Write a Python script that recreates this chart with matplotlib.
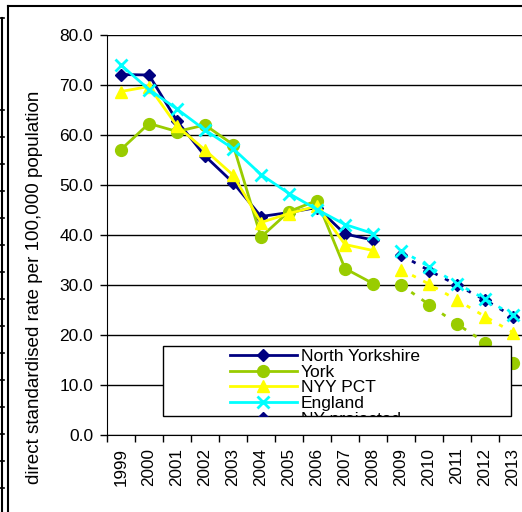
import numpy as np
import matplotlib.pyplot as plt
from matplotlib.lines import Line2D
from matplotlib.patches import Rectangle

plt.rcParams['font.family'] = ['Liberation Sans', 'DejaVu Sans']

years = [str(y) for y in range(1999, 2014)]

# observed 1999-2008
north_yorkshire = [72.1, 72.0, 62.8, 55.8, 50.5, 43.7, 44.5, 45.5, 40.2, 39.0]
york = [57.1, 62.3, 60.7, 62.0, 58.1, 39.6, 44.7, 46.9, 33.3, 30.3]
nyy_pct = [68.7, 69.7, 61.8, 57.0, 52.0, 42.5, 44.3, 45.8, 38.1, 36.9]
england = [74.0, 69.1, 65.2, 61.0, 57.3, 52.1, 48.3, 45.1, 42.1, 40.3]

# projected 2009-2013
north_yorkshire_proj = [36.0, 32.9, 30.0, 27.0, 23.7]
york_proj = [30.0, 26.1, 22.2, 18.5, 14.5]
nyy_pct_proj = [33.1, 30.2, 27.0, 23.7, 20.5]
england_proj = [36.9, 33.7, 30.3, 27.2, 24.0]

labels = ['North Yorkshire', 'York', 'NYY PCT', 'England', 'NY projected']

fig = plt.figure(figsize=(5.22, 5.12), dpi=100)
ax = fig.add_axes([107 / 522, 77 / 512, 420 / 522, 400 / 512])

x_obs = np.arange(len(north_yorkshire))
x_proj = np.arange(len(north_yorkshire), len(years))

styles = [
    dict(color='#000080', marker='D', ms=6.5, mfc='#000080', mec='#000080'),
    dict(color='#99CC00', marker='o', ms=8.5, mfc='#99CC00', mec='#99CC00'),
    dict(color='#FFFF00', marker='^', ms=9, mfc='#FFFF00', mec='#FFFF00'),
    dict(color='#00FFFF', marker='x', ms=9, mew=2),
]

handles = []
for vals, st, lab in zip([north_yorkshire, york, nyy_pct, england], styles, labels):
    h, = ax.plot(x_obs, vals, lw=2, label=lab, **st)
    handles.append(h)

proj_handles = []
for vals, st in zip([north_yorkshire_proj, york_proj, nyy_pct_proj, england_proj], styles):
    h, = ax.plot(x_proj, vals, lw=2, ls=(0, (1.5, 3)), **st)
    proj_handles.append(h)

ax.set_xlim(-0.5, len(years) - 0.5)
ax.set_ylim(0, 80)
ax.set_yticks(np.arange(0, 81, 10))
ax.set_yticklabels(['%.1f' % v for v in np.arange(0, 81, 10)])
ax.yaxis.grid(True, color='black', lw=1)
ax.set_axisbelow(True)

ax.set_xticks(np.arange(-0.5, len(years)), labels=[])
ax.set_xticks(np.arange(len(years)), labels=years, minor=True, rotation=90)
ax.tick_params(axis='x', which='minor', length=0, pad=9, labelsize=12.3)
ax.tick_params(axis='both', which='major', direction='out', length=5, width=1,
               labelsize=12.5)
ax.tick_params(axis='y', pad=5)

for s in ['top', 'right']:
    ax.spines[s].set_visible(False)

ax.set_ylabel('direct standardised rate per 100,000 population', fontsize=13.6)
ax.yaxis.set_label_coords(-0.152, 0.37)

# legend box (Excel style, contents clipped)
box = Rectangle((163 / 522, 96 / 512), 348 / 522, 70 / 512, transform=fig.transFigure,
                facecolor='white', edgecolor='black', lw=1, zorder=5)
fig.add_artist(box)
leg = fig.legend(handles + [proj_handles[0]], labels, frameon=False,
                 loc='upper left', bbox_to_anchor=(230 / 522, 1 - 349 / 512),
                 fontsize=12.5, handlelength=3.85, handletextpad=0.23,
                 labelspacing=0.03, borderpad=0, borderaxespad=0)
leg.set_zorder(6)
for a in leg.findobj():
    if a is not leg:
        a.set_clip_path(box)
for lh in leg.legend_handles:
    lh.set_linestyle('-')

# surrounding sheet borders
fig.add_artist(Line2D([8 / 522, 8 / 522], [0, 1 - 6 / 512], color='black', lw=1.5,
                      transform=fig.transFigure))
fig.add_artist(Line2D([8 / 522, 1], [1 - 6 / 512, 1 - 6 / 512], color='black', lw=1.5,
                      transform=fig.transFigure))
fig.add_artist(Line2D([2 / 522, 2 / 522], [0, 1 - 18 / 512], color='black', lw=1.5,
                      transform=fig.transFigure))
for yy in [18] + list(range(110, 512, 27)):
    fig.add_artist(Line2D([0, 4 / 522], [1 - yy / 512, 1 - yy / 512], color='black',
                          lw=1.2, transform=fig.transFigure))

fig.savefig('out.png', dpi=100)
